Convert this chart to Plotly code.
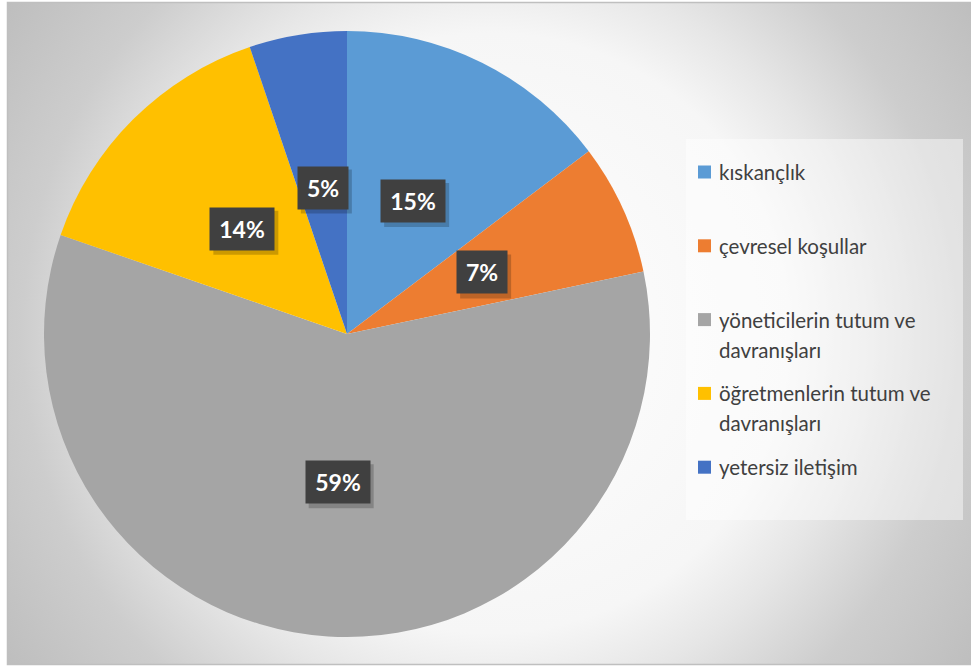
import base64
import math
import textwrap
import plotly.graph_objects as go

# ---- data ----
labels = ["kıskançlık", "çevresel koşullar", "yöneticilerin tutum ve davranışları",
          "öğretmenlerin tutum ve davranışları", "yetersiz iletişim"]
values = [14.7, 7.0, 58.6, 14.5, 5.2]
colors = ["#5B9BD5", "#ED7D31", "#A5A5A5", "#FFC000", "#4472C4"]

W, H = 971, 666

# pie placement (pixels)
pie_left, pie_right, pie_top, pie_bottom = 44, 650, 31, 637
cx = (pie_left + pie_right) / 2
cy = (pie_top + pie_bottom) / 2
R = (pie_right - pie_left) / 2

fig = go.Figure()
fig.add_trace(go.Pie(
    labels=labels, values=values, sort=False, direction="clockwise", rotation=0,
    marker=dict(colors=colors, line=dict(width=0)),
    textinfo="none", hoverinfo="label+percent", showlegend=False,
    domain=dict(x=[pie_left / W, pie_right / W], y=[1 - pie_bottom / H, 1 - pie_top / H]),
))

# background with radial gradient + border
svg = f'''<svg xmlns="http://www.w3.org/2000/svg" width="{W}" height="{H}" viewBox="0 0 {W} {H}">
<defs><radialGradient id="g" gradientUnits="userSpaceOnUse" cx="490" cy="333" r="600">
<stop offset="0" stop-color="#ffffff"/><stop offset="0.5" stop-color="#f6f6f6"/>
<stop offset="0.62" stop-color="#e6e6e6"/><stop offset="0.78" stop-color="#cdcdcd"/>
<stop offset="1" stop-color="#bcbcbc"/></radialGradient></defs>
<rect x="0" y="0" width="{W}" height="{H}" fill="#ffffff"/>
<rect x="7.5" y="2.5" width="970" height="662" fill="url(#g)" stroke="#bfbfbf" stroke-width="1.5"/>
</svg>'''
src = "data:image/svg+xml;base64," + base64.b64encode(svg.encode("utf-8")).decode()

annotations = []
shapes = []

# data labels at mid-angle, half radius
total = sum(values)
cum = 0.0
for v in values:
    mid = (cum + v / 2) / total * 2 * math.pi
    cum += v
    px = cx + 0.49 * R * math.sin(mid)
    py = cy - 0.49 * R * math.cos(mid)
    txt = f"{round(v / total * 100)}%"
    bw = 14 * len(txt) + 10
    # soft shadow under the label box
    hw, hh = (bw + 12) / 2, 21
    shapes.append(dict(type="rect", xref="paper", yref="paper", layer="above",
                       x0=(px - hw + 3) / W, x1=(px + hw + 4) / W,
                       y0=1 - (py + hh + 5) / H, y1=1 - (py - hh + 3) / H,
                       fillcolor="rgba(0,0,0,0.2)", line=dict(width=0)))
    annotations.append(dict(text=f"<b>{txt}</b>", x=px / W, y=1 - py / H, xref="paper", yref="paper",
                            showarrow=False, xanchor="center", yanchor="middle",
                            width=bw, height=30, borderpad=6, align="center", valign="middle",
                            font=dict(family="Lato", size=23, color="white"), bgcolor="#404040"))

# legend box
lg_left, lg_right, lg_top, lg_bottom = 686, 963, 139, 520
shapes.append(dict(type="rect", xref="paper", yref="paper", layer="below",
                   x0=lg_left / W, x1=lg_right / W, y0=1 - lg_bottom / H, y1=1 - lg_top / H,
                   fillcolor="rgba(255,255,255,0.45)", line=dict(width=0)))

first_y, step, line_h = 172, 73.8, 30
for i, (lbl, col) in enumerate(zip(labels, colors)):
    yc = first_y + i * step
    shapes.append(dict(type="rect", xref="paper", yref="paper",
                       x0=698 / W, x1=711 / W, y0=1 - (yc + 6.5) / H, y1=1 - (yc - 6.5) / H,
                       fillcolor=col, line=dict(width=0)))
    for j, ln in enumerate(textwrap.wrap(lbl, 22)):
        annotations.append(dict(text=ln, x=717 / W, y=1 - (yc + j * line_h) / H,
                                xref="paper", yref="paper", xanchor="left", yanchor="middle",
                                showarrow=False,
                                font=dict(family="Lato", size=20.5, color="#404040")))

fig.update_layout(
    width=W, height=H, margin=dict(l=0, r=0, t=0, b=0),
    paper_bgcolor="white", plot_bgcolor="white",
    images=[dict(source=src, xref="paper", yref="paper", x=0, y=1, sizex=1, sizey=1,
                 xanchor="left", yanchor="top", sizing="stretch", layer="below")],
    shapes=shapes, annotations=annotations,
)

fig.write_html("out.html")
